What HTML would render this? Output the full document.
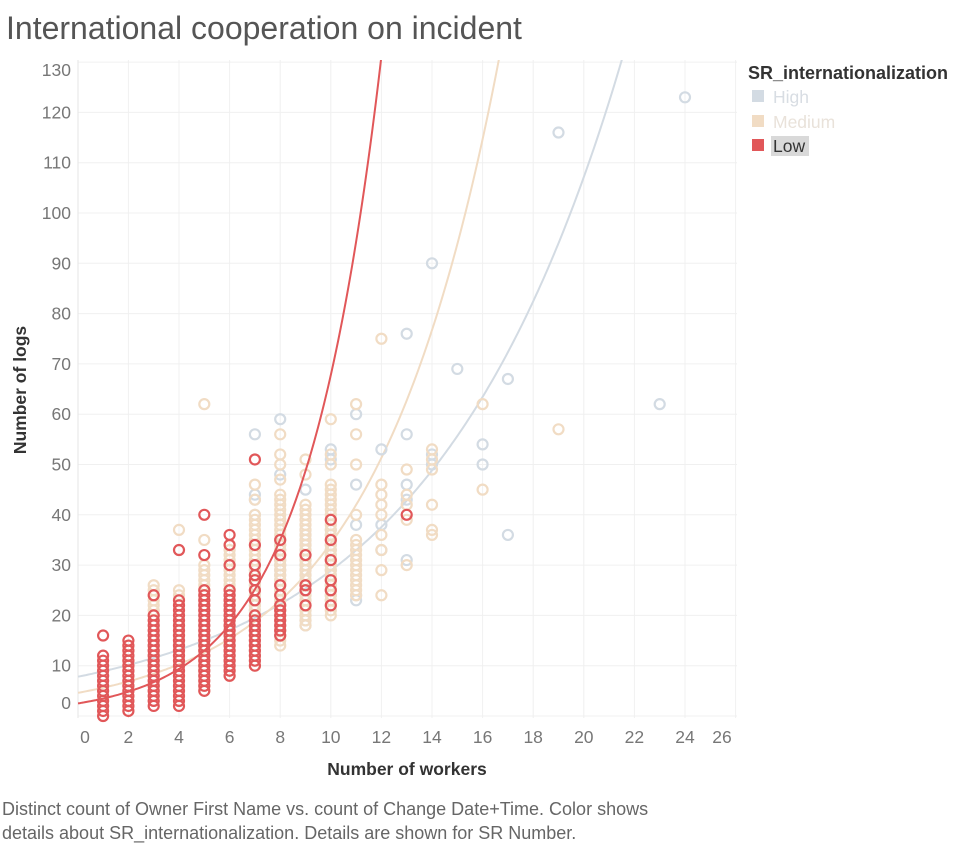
<!DOCTYPE html>
<html><head><meta charset="utf-8"><style>
body{margin:0;background:#fff;font-family:"Liberation Sans",sans-serif;}
</style></head><body>
<svg id="c" width="955" height="845" xmlns="http://www.w3.org/2000/svg" style="font-family:'Liberation Sans',sans-serif">
<text x="6" y="39" font-size="32" fill="#555">International cooperation on incident</text>
<g id="grid"></g>
<g id="axes"></g>
<g id="marks"></g>
<text x="407" y="775" font-size="17.5" font-weight="bold" fill="#333" text-anchor="middle">Number of workers</text>
<text transform="translate(26,390) rotate(-90)" font-size="17.5" font-weight="bold" fill="#333" text-anchor="middle">Number of logs</text>
<g>
<text x="748" y="79" font-size="18" font-weight="bold" fill="#333">SR_internationalization</text>
<g><rect x="752" y="90" width="12" height="12" fill="#d3dbe3"/><text x="773" y="103" font-size="17.5" fill="#d8dde3">High</text></g>
<g><rect x="752" y="115" width="12" height="12" fill="#f1dcc4"/><text x="773" y="128" font-size="17.5" fill="#e9e2da">Medium</text></g>
<g><rect x="752" y="139" width="12" height="12" fill="#e15759"/><rect x="771" y="136" width="38" height="20" fill="#d9d9d9"/><text x="773" y="152" font-size="17.5" fill="#333">Low</text></g>
</g>
<text x="2" y="815" font-size="18" fill="#666">Distinct count of Owner First Name vs. count of Change Date+Time.  Color shows</text>
<text x="2" y="839" font-size="18" fill="#666">details about SR_internationalization.  Details are shown for SR Number.</text>
</svg>
<script>
const xTicks=[0,2,4,6,8,10,12,14,16,18,20,22,24,26];
const yTicks=[0,10,20,30,40,50,60,70,80,90,100,110,120,130];
// columns: [workers, [log counts...]]; ranges given as [lo,hi] pairs expanded
const highCols=[[1,[[2,8]]],[2,[[3,12]]],[3,[[5,15]]],[4,[[5,20]]],[5,[[8,22]]],[6,[[10,25]]],[7,[[12,30],40,43,44,56]],[8,[[16,35],48,59]],[9,[[18,37],45]],[10,[[23,37],51,53]],[11,[23,24,38,46,60]],[12,[33,38,53]],[13,[31,43,46,56,76]],[14,[50,52,90]],[15,[69]],[16,[50,54]],[17,[36,67]],[19,[116]],[23,[62]],[24,[123]]];
const medCols=[[2,[[1,14]]],[3,[[3,26]]],[4,[[3,25],37]],[5,[[5,30],35,62]],[6,[[8,34]]],[7,[[10,40],43,46]],[8,[[14,44],47,50,52,56]],[9,[[18,42],48,51]],[10,[[20,46],50,52,59]],[11,[[24,35],40,50,56,62]],[12,[24,29,33,36,40,42,44,46,75]],[13,[30,39,42,44,49]],[14,[36,37,42,49,51,53]],[16,[45,62]],[19,[57]]];
const lowCols=[[1,[[0,12],16]],[2,[[1,15]]],[3,[[2,20],24]],[4,[[2,23],33]],[5,[[5,25],32,40]],[6,[[8,25],30,34,36]],[7,[[10,20],23,25,27,28,30,34,51]],[8,[[16,22],24,26,32,35]],[9,[22,25,26,32]],[10,[22,25,27,31,35,39]],[13,[40]]];
// exponential trend params [a, b]: y = a*exp(b*x)
const trendHigh=[7.8,0.131];
const trendMed=[4.6,0.201];
const trendLow=[2.5,0.33];

const NS="http://www.w3.org/2000/svg";
const X0=78,X1=737,Y0=718,Y1=60;
const xs=v=>77.8+v*25.3;
const ys=v=>716-v*5.03;
function mk(t,a,p){const e=document.createElementNS(NS,t);for(const k in a)e.setAttribute(k,a[k]);p.appendChild(e);return e;}
const grid=document.getElementById('grid'),axes=document.getElementById('axes'),marks=document.getElementById('marks');
xTicks.forEach(t=>{const x=xs(t);if(x>X0&&x<X1){const l=mk('line',{x1:x,x2:x,y1:Y1,y2:Y0,stroke:'#f0f0f0'},grid);}
 const tx=mk('text',{x:Math.min(Math.max(x,85),722),y:743,'font-size':17.5,fill:'#777','text-anchor':'middle'},axes);tx.textContent=t;});
yTicks.forEach(t=>{const y=ys(t);if(y>Y1&&y<Y0){const l=mk('line',{x1:X0,x2:X1,y1:y,y2:y,stroke:'#f0f0f0'},grid);}
 const tx=mk('text',{x:71,y:Math.min(Math.max(y,70),703)+6,'font-size':17.5,fill:'#777','text-anchor':'end'},axes);tx.textContent=t;});
mk('line',{x1:X0,x2:X0,y1:Y1,y2:Y0,stroke:'#e6e6e6'},axes);
mk('defs',{},marks).innerHTML='<clipPath id="cp"><rect x="'+X0+'" y="'+Y1+'" width="'+(X1-X0)+'" height="'+(Y0-Y1+4)+'"/></clipPath>';
function expand(list){const o=[];list.forEach(v=>{if(Array.isArray(v)){for(let i=v[0];i<=v[1];i++)o.push(i);}else o.push(v);});return o;}
function trend(p,col,name){let d='';for(let px=X0;px<=X1;px+=2){const v=(px-77.8)/25.3;const y=ys(p[0]*Math.exp(p[1]*v));d+=(d?'L':'M')+px+','+y.toFixed(1);}
 const pa=mk('path',{d:d,fill:'none',stroke:col,'stroke-width':2,'clip-path':'url(#cp)'},marks);}
function pts(cols,col,name){const g=mk('g',{},marks);
 cols.forEach(c=>expand(c[1]).forEach(v=>{const e=mk('circle',{cx:xs(c[0]),cy:ys(v),r:5,fill:'none',stroke:col,'stroke-width':2.2},g);}));}
trend(trendHigh,'#d3dbe3','trend-high');
trend(trendMed,'#f1dcc4','trend-medium');
pts(highCols,'#d3dbe3','series-high');
pts(medCols,'#f1dcc4','series-medium');
trend(trendLow,'#e15759','trend-low');
pts(lowCols,'#e15759','series-low');
</script>
</body></html>
